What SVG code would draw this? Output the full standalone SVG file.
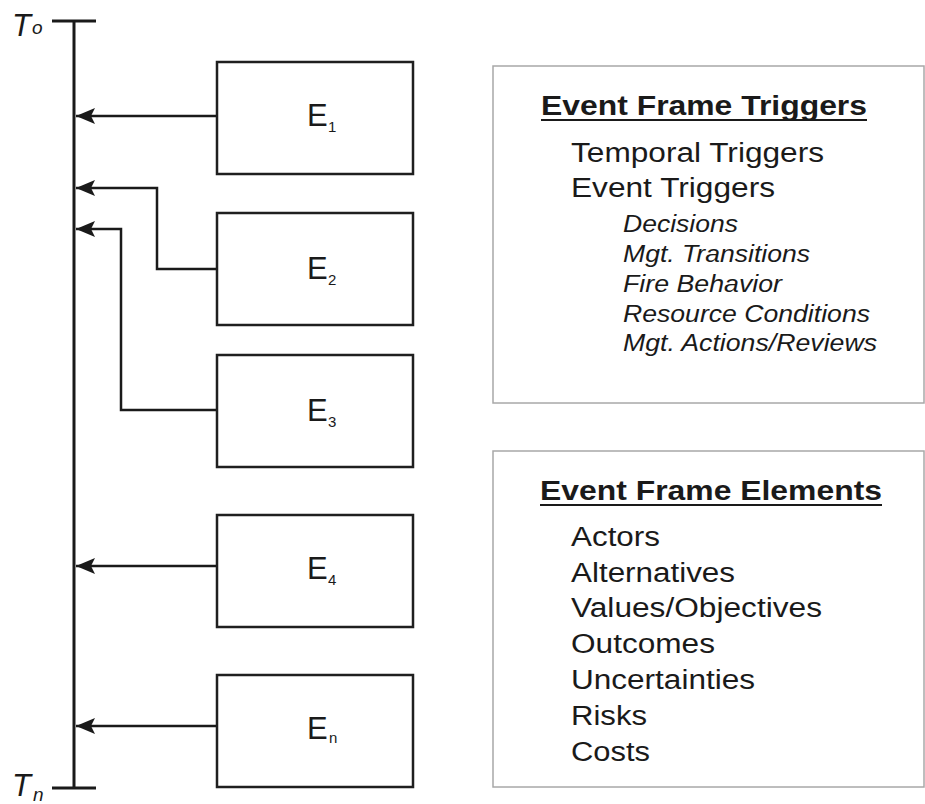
<svg xmlns="http://www.w3.org/2000/svg" width="925" height="804" viewBox="0 0 925 804">
  <defs>
    <marker id="arrow" markerUnits="userSpaceOnUse" markerWidth="20" markerHeight="18" refX="19" refY="9" orient="auto" viewBox="0 0 20 18">
      <path d="M19,9 L0,1 L4,9 L0,17 Z" fill="#1a1a1a"/>
    </marker>
    <style>
      text { font-family: "Liberation Sans", Arial, Helvetica, sans-serif; fill: #1a1a1a; }
      .box { fill: #ffffff; stroke: #1f1f1f; stroke-width: 2.5; }
      .panel { fill: #ffffff; stroke: #a8a8a8; stroke-width: 1.5; }
      .line { fill: none; stroke: #1a1a1a; stroke-width: 2.5; }
      .axis { fill: none; stroke: #1a1a1a; stroke-width: 3; }
      .ev { font-size: 31px; }
      .sub { font-size: 15px; }
      .tlabel { font-size: 31px; font-style: italic; }
      .tsub { font-size: 19px; font-style: italic; }
      .head { font-size: 27px; font-weight: bold; }
      .item { font-size: 27px; }
      .subitem { font-size: 23px; font-style: italic; }
    </style>
  </defs>

  <!-- time axis -->
  <g id="timeline">
    <line class="axis" x1="74" y1="21" x2="74" y2="788"/>
    <line class="axis" x1="52" y1="21" x2="96" y2="21"/>
    <line class="axis" x1="52" y1="788" x2="96" y2="788"/>
    <text class="tlabel" x="12" y="36">T</text>
    <text class="tsub" x="32" y="34">o</text>
    <text class="tlabel" x="12" y="796">T</text>
    <text class="tsub" x="33" y="801">n</text>
  </g>

  <!-- connectors from each event to the time axis -->
  <g id="connectors">
    <path class="line" d="M217,116 H76" marker-end="url(#arrow)"/>
    <path class="line" d="M217,269 H157 V188 H76" marker-end="url(#arrow)"/>
    <path class="line" d="M217,410 H121 V229 H76" marker-end="url(#arrow)"/>
    <path class="line" d="M217,566 H76" marker-end="url(#arrow)"/>
    <path class="line" d="M217,726 H76" marker-end="url(#arrow)"/>
  </g>

  <!-- event boxes -->
  <g id="E1">
    <rect class="box" x="217" y="62" width="196" height="112"/>
    <text class="ev" x="307" y="126">E<tspan class="sub" x="328" y="132">1</tspan></text>
  </g>
  <g id="E2">
    <rect class="box" x="217" y="213" width="196" height="112"/>
    <text class="ev" x="307" y="279">E<tspan class="sub" x="328" y="285">2</tspan></text>
  </g>
  <g id="E3">
    <rect class="box" x="217" y="355" width="196" height="112"/>
    <text class="ev" x="307" y="421">E<tspan class="sub" x="328" y="427">3</tspan></text>
  </g>
  <g id="E4">
    <rect class="box" x="217" y="515" width="196" height="112"/>
    <text class="ev" x="307" y="579">E<tspan class="sub" x="328" y="585">4</tspan></text>
  </g>
  <g id="En">
    <rect class="box" x="217" y="675" width="196" height="112"/>
    <text class="ev" x="307" y="739">E<tspan class="sub" x="329" y="743">n</tspan></text>
  </g>

  <!-- triggers panel -->
  <g id="triggers">
    <rect class="panel" x="493" y="66" width="431" height="337"/>
    <text class="head" x="541" y="115" textLength="326" lengthAdjust="spacingAndGlyphs">Event Frame Triggers</text>
    <line x1="541" y1="120" x2="867" y2="120" stroke="#1a1a1a" stroke-width="2"/>
    <text class="item" x="571" y="162" textLength="253" lengthAdjust="spacingAndGlyphs">Temporal Triggers</text>
    <text class="item" x="571" y="197" textLength="204" lengthAdjust="spacingAndGlyphs">Event Triggers</text>
    <text class="subitem" x="623" y="232" textLength="115" lengthAdjust="spacingAndGlyphs">Decisions</text>
    <text class="subitem" x="623" y="262" textLength="187" lengthAdjust="spacingAndGlyphs">Mgt. Transitions</text>
    <text class="subitem" x="623" y="292" textLength="159" lengthAdjust="spacingAndGlyphs">Fire Behavior</text>
    <text class="subitem" x="623" y="322" textLength="247" lengthAdjust="spacingAndGlyphs">Resource Conditions</text>
    <text class="subitem" x="623" y="351" textLength="254" lengthAdjust="spacingAndGlyphs">Mgt. Actions/Reviews</text>
  </g>

  <!-- elements panel -->
  <g id="elements">
    <rect class="panel" x="493" y="451" width="431" height="336"/>
    <text class="head" x="540" y="500" textLength="342" lengthAdjust="spacingAndGlyphs">Event Frame Elements</text>
    <line x1="540" y1="505" x2="882" y2="505" stroke="#1a1a1a" stroke-width="2"/>
    <text class="item" x="571" y="546" textLength="89" lengthAdjust="spacingAndGlyphs">Actors</text>
    <text class="item" x="571" y="582" textLength="164" lengthAdjust="spacingAndGlyphs">Alternatives</text>
    <text class="item" x="571" y="617" textLength="251" lengthAdjust="spacingAndGlyphs">Values/Objectives</text>
    <text class="item" x="571" y="653" textLength="144" lengthAdjust="spacingAndGlyphs">Outcomes</text>
    <text class="item" x="571" y="689" textLength="184" lengthAdjust="spacingAndGlyphs">Uncertainties</text>
    <text class="item" x="571" y="725" textLength="76" lengthAdjust="spacingAndGlyphs">Risks</text>
    <text class="item" x="571" y="761" textLength="79" lengthAdjust="spacingAndGlyphs">Costs</text>
  </g>
</svg>
